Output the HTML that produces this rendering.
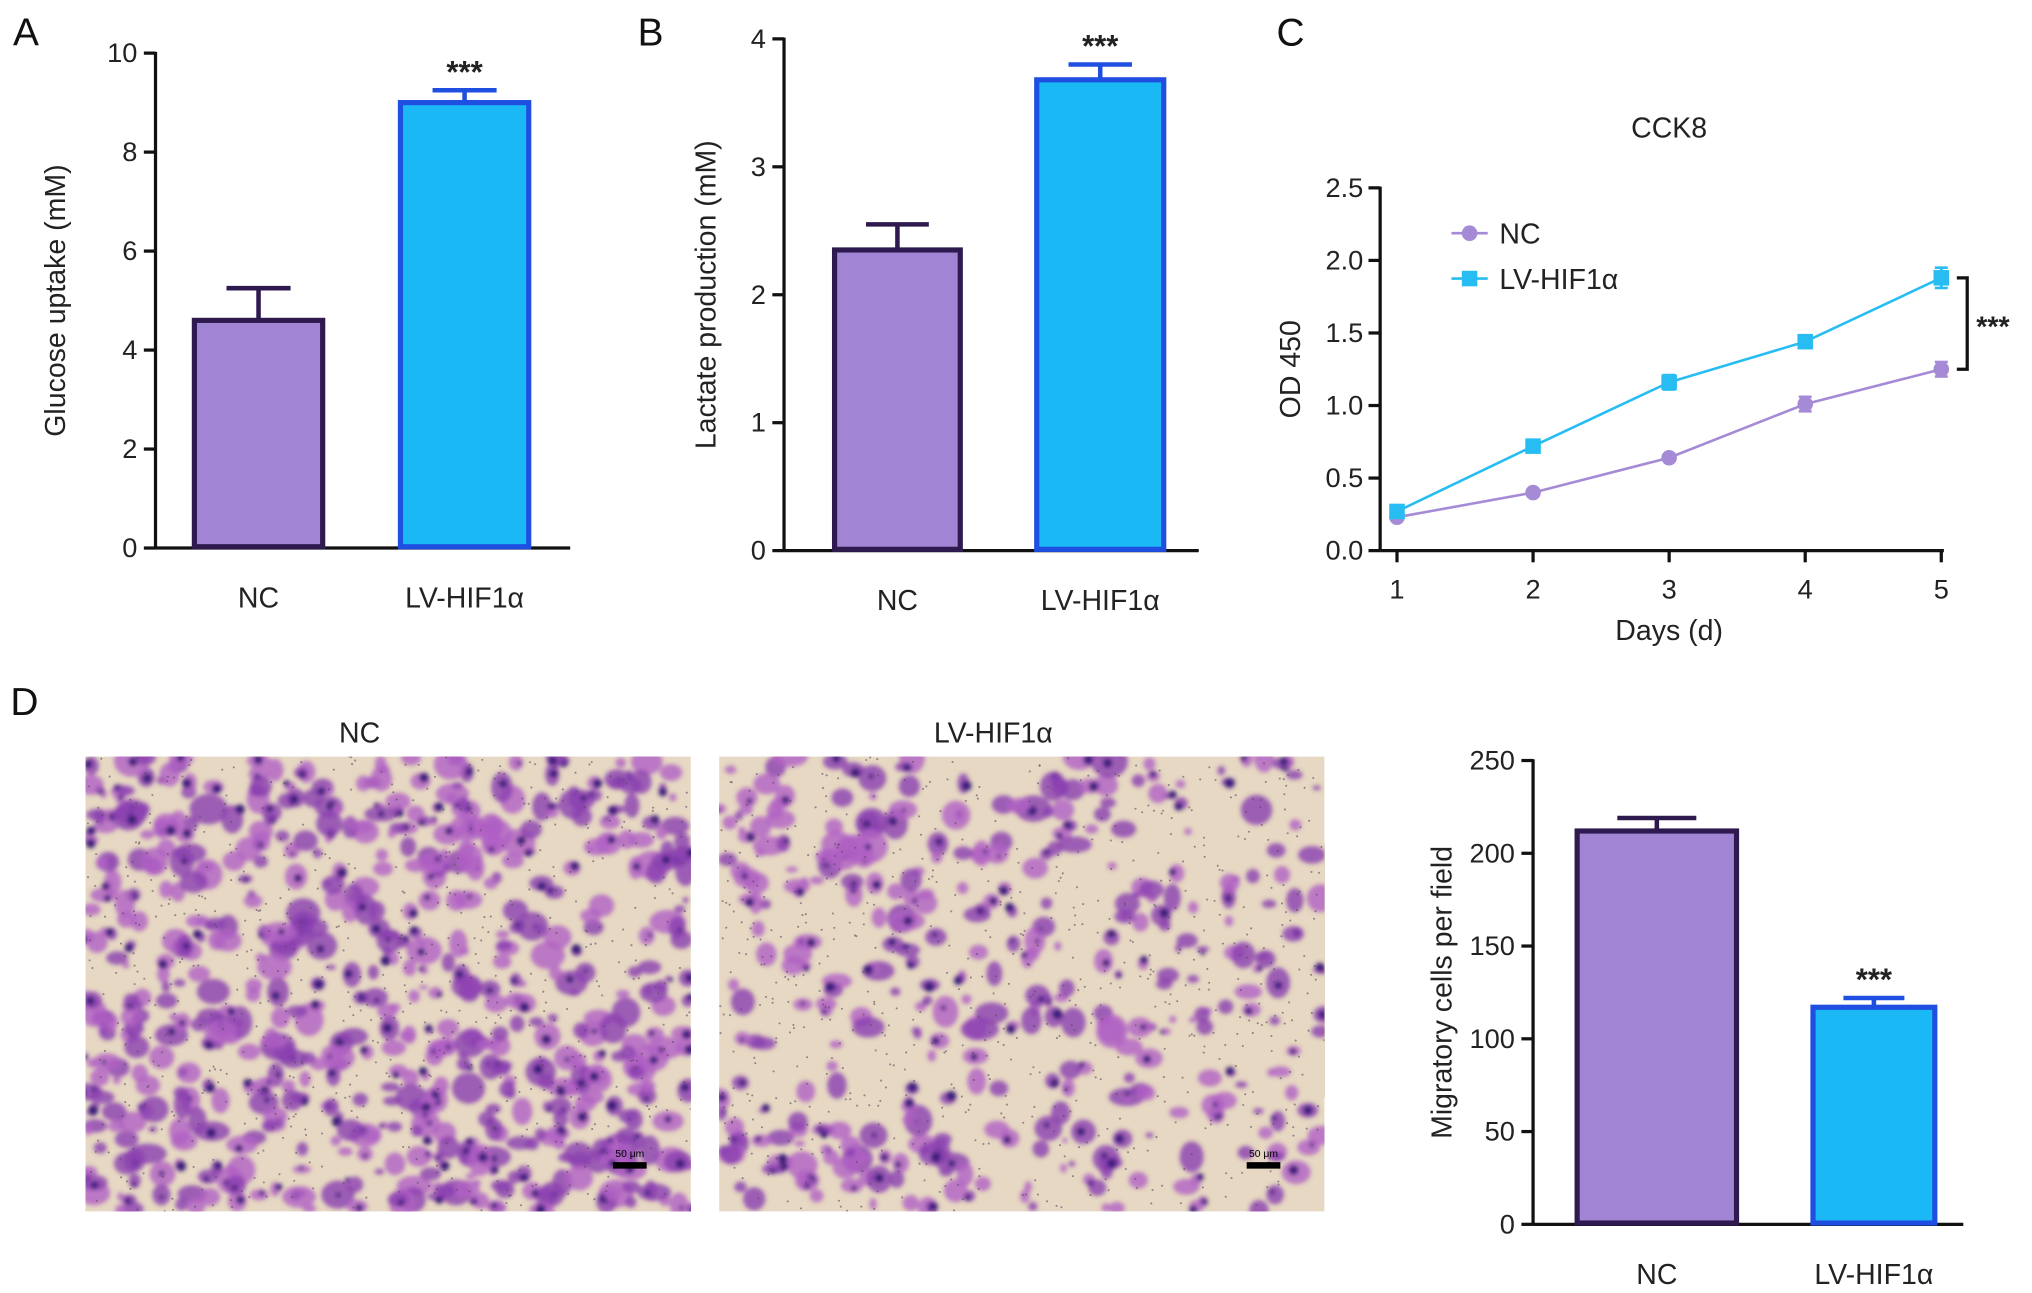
<!DOCTYPE html>
<html><head><meta charset="utf-8"><style>
html,body{margin:0;padding:0;background:#fff}
svg{display:block;font-family:"Liberation Sans",Arial,sans-serif}
</style></head><body>
<svg id="fig" width="2032" height="1293" viewBox="0 0 1568 998" preserveAspectRatio="none" xmlns="http://www.w3.org/2000/svg">
<defs>
<filter id="blur"><feGaussianBlur stdDeviation="1.6"/></filter>
</defs>
<rect width="1568" height="998" fill="#fff"/>
<g id="root"></g>
</svg>
<script>
const aCats=["NC","LV-HIF1α"], aVals=[4.6,9.0], aErr=[0.65,0.25], aTicks=[0,2,4,6,8,10];
const bCats=["NC","LV-HIF1α"], bVals=[2.35,3.68], bErr=[0.2,0.12], bTicks=[0,1,2,3,4];
const cDays=[1,2,3,4,5], cNC=[0.23,0.40,0.64,1.01,1.25], cLV=[0.27,0.72,1.16,1.44,1.88];
const cNCerr=[0.02,0.02,0.02,0.05,0.05], cLVerr=[0.02,0.03,0.05,0.04,0.07];
const cYTicks=[0,0.5,1.0,1.5,2.0,2.5];
const dCats=["NC","LV-HIF1α"], dVals=[212,117], dErr=[7,5], dTicks=[0,50,100,150,200,250];

const NS="http://www.w3.org/2000/svg";
const root=document.getElementById('root');
function el(tag,attrs,parent,txt){const e=document.createElementNS(NS,tag);for(const k in attrs)e.setAttribute(k,attrs[k]);if(txt!==undefined)e.textContent=txt;(parent||root).appendChild(e);return e;}
const PUR="#a185d4", PURD="#2e1a4f", CY="#1ab8f5", CYD="#1f4fe0";

function barChart(o){
  const g=el('g',{});
  
  
  const y=v=>o.y0-(v-o.ymin)/(o.ymax-o.ymin)*(o.y0-o.y1);
  el('line',{x1:o.ax,y1:o.y1-1,x2:o.ax,y2:o.y0,stroke:'#111','stroke-width':2.5},g);
  el('line',{x1:o.ax,y1:o.y0,x2:o.axEnd,y2:o.y0,stroke:'#111','stroke-width':2.5},g);
  o.ticks.forEach(t=>{
    el('line',{x1:o.ax-9,y1:y(t),x2:o.ax,y2:y(t),stroke:'#111','stroke-width':2.5},g);
    const tl=el('text',{x:o.ax-14,y:y(t)+7,'text-anchor':'end','font-size':21,fill:'#222'},g,String(t));
    
    
  });
  o.vals.forEach((v,i)=>{
    const x0=o.barX[i][0],x1=o.barX[i][1],cx=(x0+x1)/2,w=x1-x0;
    const fill=i==0?PUR:CY, st=i==0?PURD:CYD;
    const ey=y(v+o.err[i]);
    el('line',{x1:cx,y1:y(v),x2:cx,y2:ey,stroke:st,'stroke-width':3.5},g);
    el('line',{x1:cx-w*0.24,y1:ey,x2:cx+w*0.24,y2:ey,stroke:st,'stroke-width':3.5},g);
    const r=el('rect',{x:x0+2,y:y(v),width:w-4,height:o.y0-y(v)-1,fill:fill,stroke:st,'stroke-width':4},g);
    
    
    const lb=el('text',{x:cx,y:o.y0+46,'text-anchor':'middle','font-size':22,fill:'#222'},g,o.cats[i]);
    
    
    if(o.star==i){const s=el('text',{x:cx,y:ey-6,'text-anchor':'middle','font-size':24,'font-weight':'bold',fill:'#222'},g,'***');
      
      }
  });
  const yt=el('text',{x:0,y:0,'text-anchor':'middle','font-size':22,fill:'#222',transform:`translate(${o.titleX},${(o.y0+o.y1)/2}) rotate(-90)`},g,o.title);
  
  
}
function label(t,x,y){const e=el('text',{x:x,y:y,'font-size':30,fill:'#111'},root,t);
  
  }
label('A',10,35);label('B',492,35);label('C',985,35);label('D',8,552);

barChart({name:'glucose-uptake-chart',ax:120,axEnd:440,y0:423,y1:41,ymin:0,ymax:10,ticks:aTicks,vals:aVals,err:aErr,cats:aCats,barX:[[148,251],[307,410]],star:1,title:'Glucose uptake (mM)',titleX:50});
barChart({name:'lactate-production-chart',ax:605,axEnd:925,y0:425,y1:30,ymin:0,ymax:4,ticks:bTicks,vals:bVals,err:bErr,cats:bCats,barX:[[642,743],[798,900]],star:1,title:'Lactate production (mM)',titleX:552});
barChart({name:'migratory-cells-chart',ax:1183,axEnd:1515,y0:945,y1:587,ymin:0,ymax:250,ticks:dTicks,vals:dVals,err:dErr,cats:dCats,barX:[[1215,1342],[1397,1495]],star:1,title:'Migratory cells per field',titleX:1132-12});

// Panel C line chart
(function(){
  const g=el('g',{});
  
  
  const X=d=>1078+(d-1)*105, Y=v=>425-v*112;
  el('line',{x1:1065,y1:Y(2.5)-1,x2:1065,y2:425,stroke:'#111','stroke-width':2.5},g);
  el('line',{x1:1065,y1:425,x2:1500,y2:425,stroke:'#111','stroke-width':2.5},g);
  cYTicks.forEach(t=>{el('line',{x1:1056,y1:Y(t),x2:1065,y2:Y(t),stroke:'#111','stroke-width':2.5},g);
    const tl=el('text',{x:1052,y:Y(t)+7,'text-anchor':'end','font-size':21,fill:'#222'},g,t.toFixed(1));
    
    });
  cDays.forEach(d=>{el('line',{x1:X(d),y1:425,x2:X(d),y2:434,stroke:'#111','stroke-width':2.5},g);
    const tl=el('text',{x:X(d),y:462,'text-anchor':'middle','font-size':21,fill:'#222'},g,String(d));
    
    });
  function series(vals,errs,col,sq,name){
    const pts=vals.map((v,i)=>X(cDays[i])+','+Y(v)).join(' ');
    const pl=el('polyline',{points:pts,fill:'none',stroke:col,'stroke-width':2},g);
    
    
    vals.forEach((v,i)=>{const x=X(cDays[i]);
      el('line',{x1:x,y1:Y(v+errs[i]),x2:x,y2:Y(v-errs[i]),stroke:col,'stroke-width':2},g);
      el('line',{x1:x-5,y1:Y(v+errs[i]),x2:x+5,y2:Y(v+errs[i]),stroke:col,'stroke-width':2},g);
      el('line',{x1:x-5,y1:Y(v-errs[i]),x2:x+5,y2:Y(v-errs[i]),stroke:col,'stroke-width':2},g);
      const m=sq?el('rect',{x:x-6,y:Y(v)-6,width:12,height:12,fill:col},g):el('circle',{cx:x,cy:Y(v),r:6,fill:col},g);
      
      });
  }
  series(cNC,cNCerr,'#a58ad6',false,'nc');
  series(cLV,cLVerr,'#27bdf2',true,'lv-hif1a');
  const t=el('text',{x:1288,y:106,'text-anchor':'middle','font-size':22,fill:'#222'},g,'CCK8');
  
  
  const xt=el('text',{x:1288,y:494,'text-anchor':'middle','font-size':22,fill:'#222'},g,'Days (d)');
  
  
  const yt=el('text',{x:0,y:0,'text-anchor':'middle','font-size':22,fill:'#222',transform:'translate(1003,285) rotate(-90)'},g,'OD 450');
  
  
  el('line',{x1:1120,y1:180,x2:1148,y2:180,stroke:'#a58ad6','stroke-width':2},g);
  el('circle',{cx:1134,cy:180,r:6,fill:'#a58ad6'},g);
  const l1=el('text',{x:1157,y:188,'font-size':22,fill:'#222'},g,'NC');
  
  
  el('line',{x1:1120,y1:215,x2:1148,y2:215,stroke:'#27bdf2','stroke-width':2},g);
  el('rect',{x:1128,y:209,width:12,height:12,fill:'#27bdf2'},g);
  const l2=el('text',{x:1157,y:223,'font-size':22,fill:'#222'},g,'LV-HIF1α');
  
  
  const yT=Y(cLV[4]),yB=Y(cNC[4]);
  const br=el('path',{d:`M1510 ${yT} H1518 V${yB} H1510`,fill:'none',stroke:'#111','stroke-width':2.5},g);
  
  
  const s=el('text',{x:1525,y:(yT+yB)/2+10,'font-size':22,'font-weight':'bold',fill:'#222'},g,'***');
  
  
})();

// Panel D micrographs
let seed=7;function rnd(){seed=(seed*16807)%2147483647;return seed/2147483647;}
function micro(x0,name,title,n){
  const g=el('g',{});
  
  
  const w=467,h=351,y0=584;
  el('rect',{x:x0,y:y0,width:w,height:h,fill:'#e6d8c2'},g);
  const cp=el('clipPath',{id:'c'+name},g);el('rect',{x:x0,y:y0,width:w,height:h},cp);
  const b=el('g',{'clip-path':`url(#c${name})`,filter:'url(#blur)'},g);
  for(let i=0;i<n;i++){
    const cx=x0+rnd()*w,cy=y0+rnd()*h,r=2.5+rnd()*7;
    el('ellipse',{cx:cx,cy:cy,rx:r*(0.8+rnd()*0.8),ry:r*(0.7+rnd()*0.7),fill:rnd()<0.5?'#8a3fb0':'#b060c4',opacity:0.8},b);
    if(rnd()<0.4)el('circle',{cx:cx+rnd()*6-3,cy:cy+rnd()*6-3,r:1.5+rnd()*2.5,fill:'#3b1e7a'},b);
  }
  const d=el('g',{'clip-path':`url(#c${name})`},g);
  for(let i=0;i<700;i++)el('circle',{cx:x0+rnd()*w,cy:y0+rnd()*h,r:0.8,fill:'#5a4a60',opacity:0.6},d);
  el('rect',{x:x0+w-60,y:y0+313,width:26,height:5,fill:'#000'},g);
  el('text',{x:x0+w-47,y:y0+309,'text-anchor':'middle','font-size':8,fill:'#000'},g,'50 μm');
  const t=el('text',{x:x0+w/2-22,y:573,'text-anchor':'middle','font-size':22,fill:'#222'},root,title);
  
  
}
micro(66,'micrograph-nc','NC',650);
micro(555,'micrograph-lv-hif1a','LV-HIF1α',380);
</script>
</body></html>
